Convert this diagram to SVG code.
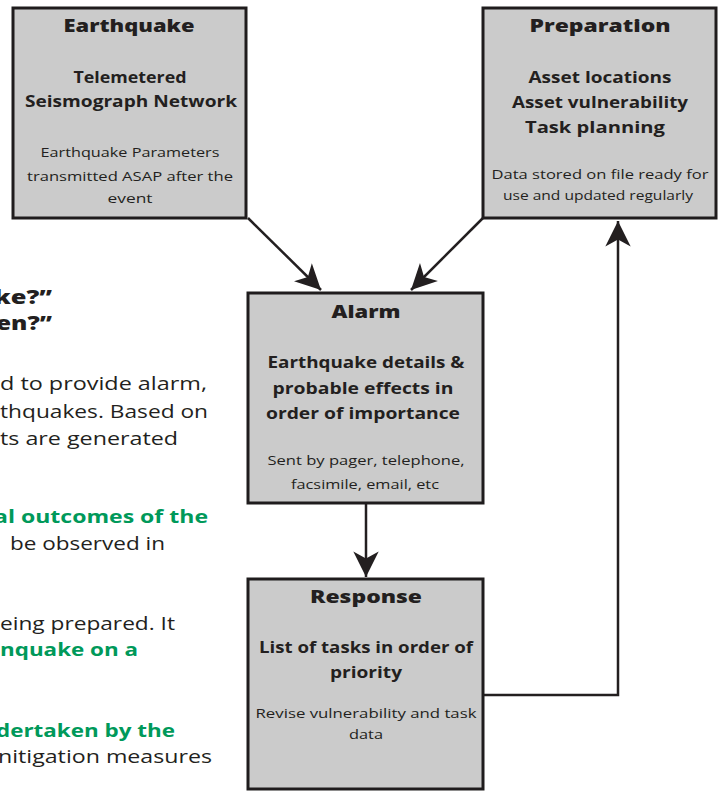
<svg xmlns="http://www.w3.org/2000/svg" width="720" height="791" viewBox="0 0 720 791">
<style>
.box{fill:#cbcbcb;stroke:#1f1c1d;stroke-width:3}
text{font-family:"Open Sans","Noto Sans","DejaVu Sans",sans-serif;fill:#231f20}
.t{font-size:17px;font-weight:800;text-anchor:middle}
.s{font-size:15.5px;font-weight:700;text-anchor:middle}
.n{font-size:13px;text-anchor:middle}
.lh{font-size:18.5px;font-weight:800}
.lb{font-size:18.5px}
.lg{font-size:18.5px;font-weight:700;fill:#00995a}
.c{fill:none;stroke:#231f20;stroke-width:2.5}
</style>
<defs>
<marker id="ah" markerUnits="userSpaceOnUse" markerWidth="30" markerHeight="30" viewBox="-24 -13 26 26" refX="0" refY="0" orient="auto">
<path d="M0,0 L-22,-11 L-16,0 L-22,11 Z" fill="#231f20"/>
</marker>
</defs>
<g id="side-text">
<text class="lh" x="52" y="304" text-anchor="end" textLength="58" lengthAdjust="spacingAndGlyphs">ke?”</text>
<text class="lh" x="52" y="330" text-anchor="end" textLength="56" lengthAdjust="spacingAndGlyphs">en?”</text>
<text class="lb" x="0" y="390" textLength="207" lengthAdjust="spacingAndGlyphs">d to provide alarm,</text>
<text class="lb" x="0" y="418" textLength="208" lengthAdjust="spacingAndGlyphs">thquakes. Based on</text>
<text class="lb" x="0" y="445" textLength="178" lengthAdjust="spacingAndGlyphs">ts are generated</text>
<text class="lg" x="-6" y="523" textLength="214" lengthAdjust="spacingAndGlyphs">al outcomes of the</text>
<text class="lb" x="10" y="550" textLength="155" lengthAdjust="spacingAndGlyphs">be observed in</text>
<text class="lb" x="0" y="630" textLength="175" lengthAdjust="spacingAndGlyphs">eing prepared. It</text>
<text class="lg" x="0" y="656" textLength="138" lengthAdjust="spacingAndGlyphs">nquake on a</text>
<text class="lg" x="-4" y="737" textLength="179" lengthAdjust="spacingAndGlyphs">dertaken by the</text>
<text class="lb" x="-2" y="763" textLength="214" lengthAdjust="spacingAndGlyphs">nitigation measures</text>
</g>
<g id="connectors">
<line class="c" x1="248" y1="218" x2="321" y2="290" marker-end="url(#ah)"/>
<line class="c" x1="483" y1="218" x2="411" y2="290" marker-end="url(#ah)"/>
<line class="c" x1="366" y1="503" x2="366" y2="577" marker-end="url(#ah)"/>
<polyline class="c" points="483,695 618,695 618,221" marker-end="url(#ah)"/>
</g>
<g id="earthquake">
<rect class="box" x="13" y="8" width="233" height="210"/>
<text class="t" x="129" y="32" textLength="131" lengthAdjust="spacingAndGlyphs">Earthquake</text>
<text class="s" x="130" y="83" textLength="113" lengthAdjust="spacingAndGlyphs">Telemetered</text>
<text class="s" x="131" y="107" textLength="212" lengthAdjust="spacingAndGlyphs">Seismograph Network</text>
<text class="n" x="130" y="157" textLength="179" lengthAdjust="spacingAndGlyphs">Earthquake Parameters</text>
<text class="n" x="130" y="181" textLength="206" lengthAdjust="spacingAndGlyphs">transmitted ASAP after the</text>
<text class="n" x="130" y="203" textLength="45" lengthAdjust="spacingAndGlyphs">event</text>
</g>
<g id="preparation">
<rect class="box" x="483" y="8" width="233" height="210"/>
<text class="t" x="600" y="32" textLength="141" lengthAdjust="spacingAndGlyphs">Preparation</text>
<text class="s" x="600" y="83" textLength="143" lengthAdjust="spacingAndGlyphs">Asset locations</text>
<text class="s" x="600" y="108" textLength="176" lengthAdjust="spacingAndGlyphs">Asset vulnerability</text>
<text class="s" x="595" y="133" textLength="140" lengthAdjust="spacingAndGlyphs">Task planning</text>
<text class="n" x="600" y="179" textLength="217" lengthAdjust="spacingAndGlyphs">Data stored on file ready for</text>
<text class="n" x="598" y="200" textLength="190" lengthAdjust="spacingAndGlyphs">use and updated regularly</text>
</g>
<g id="alarm">
<rect class="box" x="248" y="293" width="235" height="210"/>
<text class="t" x="366" y="318" textLength="69" lengthAdjust="spacingAndGlyphs">Alarm</text>
<text class="s" x="366" y="368" textLength="197" lengthAdjust="spacingAndGlyphs">Earthquake details &amp;</text>
<text class="s" x="363" y="394" textLength="181" lengthAdjust="spacingAndGlyphs">probable effects in</text>
<text class="s" x="363" y="419" textLength="194" lengthAdjust="spacingAndGlyphs">order of importance</text>
<text class="n" x="366" y="465" textLength="197" lengthAdjust="spacingAndGlyphs">Sent by pager, telephone,</text>
<text class="n" x="365" y="489" textLength="148" lengthAdjust="spacingAndGlyphs">facsimile, email, etc</text>
</g>
<g id="response">
<rect class="box" x="248" y="579" width="235" height="210"/>
<text class="t" x="366" y="603" textLength="112" lengthAdjust="spacingAndGlyphs">Response</text>
<text class="s" x="366" y="653" textLength="214" lengthAdjust="spacingAndGlyphs">List of tasks in order of</text>
<text class="s" x="366" y="678" textLength="72" lengthAdjust="spacingAndGlyphs">priority</text>
<text class="n" x="366" y="718" textLength="221" lengthAdjust="spacingAndGlyphs">Revise vulnerability and task</text>
<text class="n" x="366" y="739" textLength="34" lengthAdjust="spacingAndGlyphs">data</text>
</g>
</svg>
